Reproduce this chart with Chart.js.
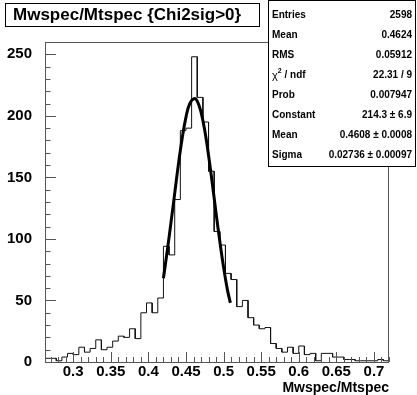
<!DOCTYPE html>
<html>
<head>
<meta charset="utf-8">
<script src="https://cdn.jsdelivr.net/npm/chart.js@4/dist/chart.umd.min.js"></script>
<style>
html, body { margin: 0; padding: 0; background: #fff; }
canvas { display: block; }
</style>
</head>
<body>
<canvas id="histo" width="417" height="395"></canvas>
<script>
// histogram Mwspec/Mtspec, 61 bins
const xMin = 0.2625;
const xMax = 0.72;
const binWidth = 0.0075;
const counts = [3, 3, 1, 4, 7, 6, 12, 8, 11, 18,
                10, 12, 17, 21, 20, 27, 19, 40, 48, 40,
                52, 94, 87, 132, 188, 190, 248, 215, 195, 155,
                106, 95, 72, 67, 45, 50, 36, 30, 27, 28,
                15, 11, 8, 12, 7, 13, 6, 7, 1, 7,
                7, 4, 4, 2, 2, 1, 1, 1, 1, 2, 1];

// gaus fit
const fitX = [0.420, 0.425, 0.430, 0.435, 0.440, 0.445, 0.450, 0.455, 0.461, 0.465,
              0.470, 0.475, 0.480, 0.485, 0.490, 0.495, 0.500, 0.505, 0.509];
const fitY = [68, 90, 113, 137, 161, 182, 199, 210, 214, 212,
              203, 188, 168, 145, 121, 98, 77, 59, 48];

const xTicks = [0.3, 0.35, 0.4, 0.45, 0.5, 0.55, 0.6, 0.65, 0.7];
const yTicks = [0, 50, 100, 150, 200, 250];
const yMax = 260;

const titleText = 'Mwspec/Mtspec {Chi2sig>0}';
const xTitle = 'Mwspec/Mtspec';
const statsLabels = ['Entries', 'Mean', 'RMS', 'chi2', 'Prob', 'Constant', 'Mean', 'Sigma'];
const statsValues = ['2598', '0.4624', '0.05912', '22.31 / 9', '0.007947',
                     '214.3 \u00b1 6.9', '0.4608 \u00b1 0.0008', '0.02736 \u00b1 0.00097'];

const FONT = '"Liberation Sans", Arial, Helvetica, sans-serif';

function histPoints(){
    let pts = [];
    for(let i = 0; i < counts.length; i++){
        let lo = xMin + i*binWidth;
        let hi = (i == counts.length-1) ? xMax : xMin + (i+1)*binWidth;
        pts.push({x: lo, y: counts[i]});
        pts.push({x: hi, y: counts[i]});
    }
    return pts;
}

const rootDeco = {
    id: 'rootDeco',
    beforeDraw(chart){
        const ctx = chart.ctx;
        ctx.save();
        ctx.fillStyle = '#fff';
        ctx.fillRect(0, 0, chart.width, chart.height);
        ctx.restore();
    },
    afterDraw(chart){
        const ctx = chart.ctx;
        const a = chart.chartArea;
        const xs = chart.scales.x, ys = chart.scales.y;
        ctx.save();
        // frame
        ctx.strokeStyle = '#555';
        ctx.lineWidth = 1;
        ctx.strokeRect(a.left + 0.5, a.top + 0.5, a.right - a.left - 1, a.bottom - a.top);
        // y ticks (inside)
        ctx.beginPath();
        for(let v = 0; v <= yMax; v += 10){
            let py = Math.round(ys.getPixelForValue(v)) + 0.5;
            let len = (v % 50 == 0) ? 11 : 5.5;
            ctx.moveTo(a.left, py);
            ctx.lineTo(a.left + len, py);
        }
        // x ticks (inside)
        for(let k = 27; k <= 72; k++){
            let v = k/100;
            let px = Math.round(xs.getPixelForValue(v)) + 0.5;
            let len = (k % 5 == 0) ? 10 : 5;
            ctx.moveTo(px, a.bottom);
            ctx.lineTo(px, a.bottom - len);
        }
        ctx.stroke();

        // title box
        ctx.strokeStyle = '#000';
        ctx.strokeRect(5.5, 3.5, 254, 23);
        ctx.fillStyle = '#000';
        ctx.font = 'bold 17px ' + FONT;
        ctx.textBaseline = 'middle';
        ctx.textAlign = 'left';
        ctx.fillText(titleText, 13, 15.5);

        // stats box
        ctx.fillStyle = '#fff';
        ctx.fillRect(268, 0, 148, 167);
        ctx.strokeRect(268.5, 0.5, 147, 166);
        ctx.fillStyle = '#000';
        for(let i = 0; i < statsLabels.length; i++){
            let yy = 15 + 20.1*i;
            ctx.textAlign = 'left';
            if(statsLabels[i] == 'chi2'){
                ctx.font = '11px ' + FONT;
                ctx.fillText('\u03c7', 272, yy + 1);
                let w = ctx.measureText('\u03c7').width;
                ctx.font = 'bold 7px ' + FONT;
                ctx.fillText('2', 272 + w, yy - 4);
                ctx.font = 'bold 10px ' + FONT;
                ctx.fillText(' / ndf', 272 + w + 4, yy);
            } else {
                ctx.font = 'bold 10px ' + FONT;
                ctx.fillText(statsLabels[i], 272, yy);
            }
            ctx.font = 'bold 10px ' + FONT;
            ctx.textAlign = 'right';
            ctx.fillText(statsValues[i], 412, yy);
        }

        // x axis title
        ctx.font = 'bold 14px ' + FONT;
        ctx.textAlign = 'right';
        ctx.textBaseline = 'middle';
        ctx.fillText(xTitle, a.right, 388);
        ctx.restore();
    }
};

const data = {
    datasets: [{
            label: 'gaus',
            data: fitX.map((x, i) => ({x: x, y: fitY[i]})),
            borderColor: '#000',
            borderWidth: 3,
            pointRadius: 0,
            tension: 0.4,
            fill: false
        }, {
            label: 'Mwspec/Mtspec',
            data: histPoints(),
            borderColor: '#111',
            borderWidth: 1,
            pointRadius: 0,
            tension: 0,
            fill: false
    }]
};

const config = {
    type: 'line',
    data: data,
    options: {
        responsive: false,
        animation: false,
        parsing: false,
        layout: {padding: {top: 42, right: 28, left: 0, bottom: 0}},
        plugins: {legend: {display: false}, tooltip: {enabled: false}},
        scales: {
            x: {
                type: 'linear', min: xMin, max: xMax,
                grid: {display: false}, border: {display: false},
                afterBuildTicks: s => { s.ticks = xTicks.map(v => ({value: v})); },
                afterFit: s => { s.height = 33; },
                ticks: {
                    font: {family: FONT, size: 15, weight: 'bold'},
                    color: '#000', padding: -7, maxRotation: 0, autoSkip: false,
                    callback: v => String(v)
                }
            },
            y: {
                type: 'linear', min: 0, max: yMax,
                grid: {display: false}, border: {display: false},
                afterBuildTicks: s => { s.ticks = yTicks.map(v => ({value: v})); },
                afterFit: s => { s.width = 45; },
                ticks: {
                    font: {family: FONT, size: 15, weight: 'bold'},
                    color: '#000', padding: 5,
                    callback: v => String(v)
                }
            }
        }
    },
    plugins: [rootDeco]
};

let ctx = document.getElementById('histo').getContext('2d');
new Chart(ctx, config);
</script>
</body>
</html>
